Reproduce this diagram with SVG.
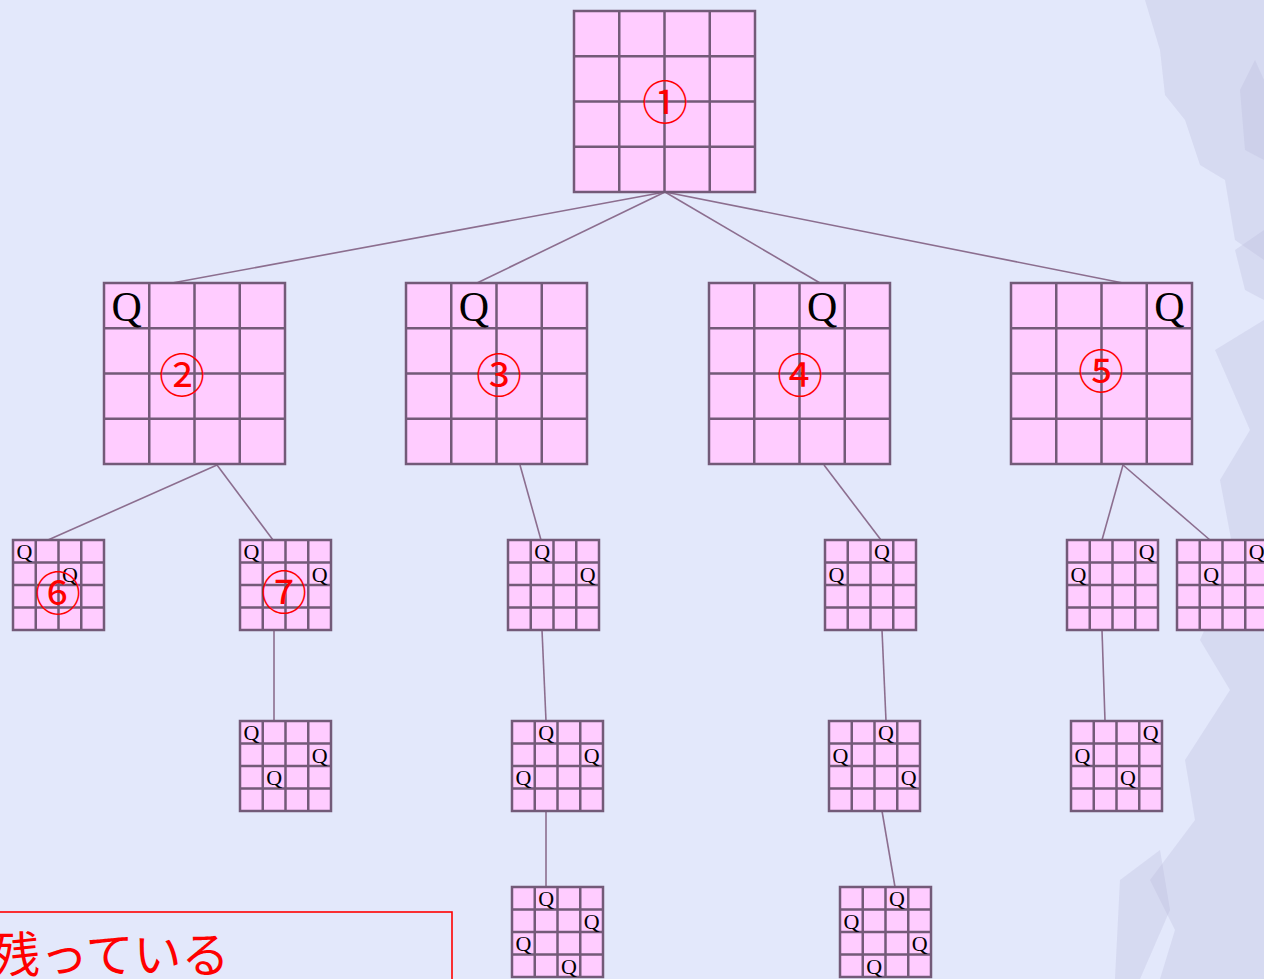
<svg xmlns="http://www.w3.org/2000/svg" xmlns:xlink="http://www.w3.org/1999/xlink" width="1264" height="979" viewBox="0 0 1264 979">
<style>
.bg{fill:#e3e8fb}
.cell{fill:#ffccff;stroke:#735a78;stroke-width:2.5}
.grid{stroke:#735a78;stroke-width:2.5}
.edge{stroke:#8c6e8f;stroke-width:1.6;fill:none}
.qb{font-family:"Liberation Serif","DejaVu Serif",serif;font-size:42px;fill:#000;text-anchor:middle}
.qs{font-family:"Liberation Serif","DejaVu Serif",serif;font-size:22px;fill:#000;text-anchor:middle}
.num{font-family:"Liberation Serif","Noto Sans CJK JP",serif;font-size:46px;fill:#ff0000;text-anchor:middle;dominant-baseline:central}
.note{font-family:"Noto Sans CJK JP",sans-serif;font-size:48px;fill:#ff0000}
.tex{fill:#b8b8dc;opacity:0.3}
</style>
<defs>
<symbol id="big" overflow="visible">
<rect class="cell" x="0" y="0" width="181" height="181"/>
<path class="grid" d="M45.25 0V181M90.5 0V181M135.75 0V181M0 45.25H181M0 90.5H181M0 135.75H181"/>
</symbol>
<symbol id="small" overflow="visible">
<rect class="cell" x="0" y="0" width="91" height="90"/>
<path class="grid" d="M22.75 0V90M45.5 0V90M68.25 0V90M0 22.5H91M0 45H91M0 67.5H91"/>
</symbol>
</defs>
<rect class="bg" x="0" y="0" width="1264" height="979"/>
<g id="texture">
<path class="tex" d="M1145 0 L1264 0 L1264 260 L1235 240 L1225 180 L1200 165 L1185 120 L1165 95 L1160 50 Z"/>
<path class="tex" d="M1240 90 L1255 60 L1264 80 L1264 160 L1245 150 Z"/>
<path class="tex" d="M1215 350 L1264 320 L1264 979 L1160 979 L1175 930 L1150 880 L1195 820 L1185 760 L1230 690 L1200 640 L1235 560 L1220 480 L1250 430 Z"/>
<path class="tex" d="M1120 880 L1160 850 L1170 910 L1140 979 L1115 979 Z"/>
<path class="tex" d="M1235 250 L1264 230 L1264 300 L1245 290 Z"/>
</g>
<g id="connectors">
<line class="edge" x1="665" y1="192" x2="172" y2="283"/>
<line class="edge" x1="665" y1="192" x2="477" y2="283"/>
<line class="edge" x1="665" y1="192" x2="820" y2="283"/>
<line class="edge" x1="665" y1="192" x2="1123" y2="283"/>
<line class="edge" x1="217" y1="465" x2="48" y2="540"/>
<line class="edge" x1="217" y1="465" x2="273" y2="540"/>
<line class="edge" x1="520" y1="465" x2="541" y2="540"/>
<line class="edge" x1="824" y1="465" x2="881" y2="540"/>
<line class="edge" x1="1123" y1="465" x2="1102" y2="540"/>
<line class="edge" x1="1123" y1="465" x2="1210" y2="540"/>
<line class="edge" x1="274" y1="630" x2="274" y2="721"/>
<line class="edge" x1="542" y1="630" x2="546" y2="721"/>
<line class="edge" x1="882" y1="630" x2="886" y2="721"/>
<line class="edge" x1="1102" y1="630" x2="1105" y2="721"/>
<line class="edge" x1="546" y1="811" x2="546" y2="887"/>
<line class="edge" x1="882" y1="811" x2="895" y2="887"/>
</g>
<g id="n1"><use xlink:href="#big" x="574" y="11"/><text class="num" x="665" y="103">①</text></g>
<g id="n2"><use xlink:href="#big" x="104" y="283"/><text class="qb" x="126.6" y="321">Q</text><text class="num" x="182" y="376">②</text></g>
<g id="n3"><use xlink:href="#big" x="406" y="283"/><text class="qb" x="473.9" y="321">Q</text><text class="num" x="499" y="376">③</text></g>
<g id="n4"><use xlink:href="#big" x="709" y="283"/><text class="qb" x="822.1" y="321">Q</text><text class="num" x="800" y="376">④</text></g>
<g id="n5"><use xlink:href="#big" x="1011" y="283"/><text class="qb" x="1169.4" y="321">Q</text><text class="num" x="1101" y="372">⑤</text></g>
<g id="n6"><use xlink:href="#small" x="13" y="540"/><text class="qs" x="24.4" y="559">Q</text><text class="qs" x="69.9" y="581.5">Q</text><text class="num" x="58" y="594">⑥</text></g>
<g id="n7"><use xlink:href="#small" x="240" y="540"/><text class="qs" x="251.4" y="559">Q</text><text class="qs" x="319.6" y="581.5">Q</text><text class="num" x="284" y="593">⑦</text></g>
<g id="n3a"><use xlink:href="#small" x="508" y="540"/><text class="qs" x="542.1" y="559">Q</text><text class="qs" x="587.6" y="581.5">Q</text></g>
<g id="n4a"><use xlink:href="#small" x="825" y="540"/><text class="qs" x="881.9" y="559">Q</text><text class="qs" x="836.4" y="581.5">Q</text></g>
<g id="n5a"><use xlink:href="#small" x="1067" y="540"/><text class="qs" x="1146.6" y="559">Q</text><text class="qs" x="1078.4" y="581.5">Q</text></g>
<g id="n5b"><use xlink:href="#small" x="1177" y="540"/><text class="qs" x="1256.6" y="559">Q</text><text class="qs" x="1211.1" y="581.5">Q</text></g>
<g id="n7a"><use xlink:href="#small" x="240" y="721"/><text class="qs" x="251.4" y="740">Q</text><text class="qs" x="319.6" y="762.5">Q</text><text class="qs" x="274.1" y="785">Q</text></g>
<g id="n3b"><use xlink:href="#small" x="512" y="721"/><text class="qs" x="546.1" y="740">Q</text><text class="qs" x="591.6" y="762.5">Q</text><text class="qs" x="523.4" y="785">Q</text></g>
<g id="n4b"><use xlink:href="#small" x="829" y="721"/><text class="qs" x="885.9" y="740">Q</text><text class="qs" x="840.4" y="762.5">Q</text><text class="qs" x="908.6" y="785">Q</text></g>
<g id="n5c"><use xlink:href="#small" x="1071" y="721"/><text class="qs" x="1150.6" y="740">Q</text><text class="qs" x="1082.4" y="762.5">Q</text><text class="qs" x="1127.9" y="785">Q</text></g>
<g id="n3c"><use xlink:href="#small" x="512" y="887"/><text class="qs" x="546.1" y="906">Q</text><text class="qs" x="591.6" y="928.5">Q</text><text class="qs" x="523.4" y="951">Q</text><text class="qs" x="568.9" y="973.5">Q</text></g>
<g id="n4c"><use xlink:href="#small" x="840" y="887"/><text class="qs" x="896.9" y="906">Q</text><text class="qs" x="851.4" y="928.5">Q</text><text class="qs" x="919.6" y="951">Q</text><text class="qs" x="874.1" y="973.5">Q</text></g>
<g id="note">
<rect x="-10" y="912" width="462" height="90" fill="none" stroke="#ff0000" stroke-width="1.6"/>
<text class="note" x="-8" y="972">残っている</text>
</g>
</svg>
